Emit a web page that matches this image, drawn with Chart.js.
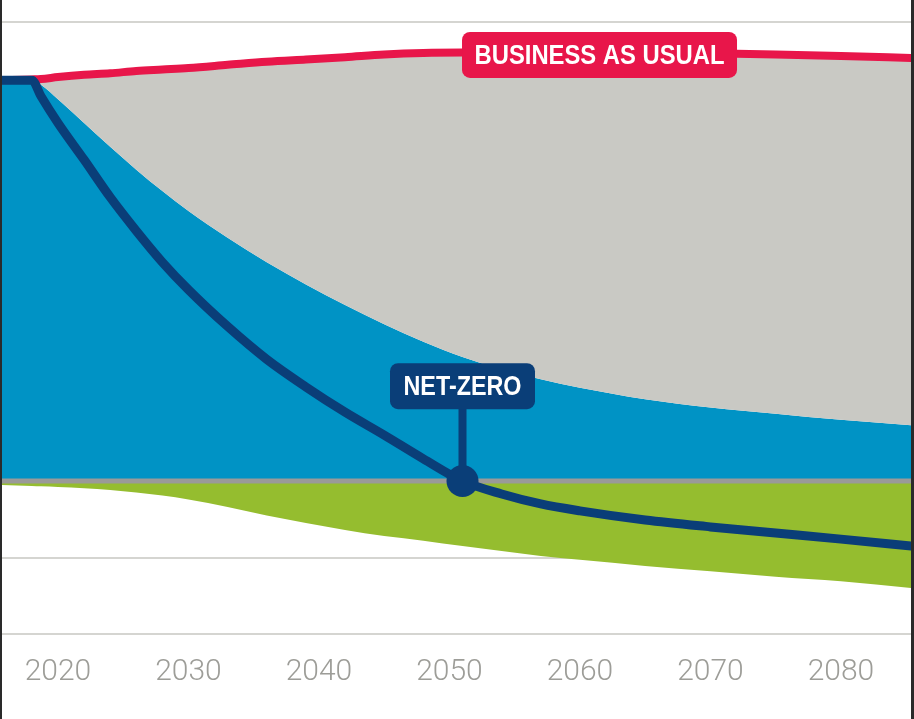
<!DOCTYPE html>
<html>
<head>
<meta charset="utf-8">
<script src="https://cdn.jsdelivr.net/npm/chart.js@4/dist/chart.umd.min.js"></script>
<style>
  html, body { margin: 0; padding: 0; background: #2a2a2a; }
  #wrap { position: absolute; left: 2px; top: 0; width: 909px; height: 719px; background: #fff; }
</style>
</head>
<body>
<div id="wrap"><canvas id="chart"></canvas></div>
<script>
// values (emissions, arbitrary units)
const years = [2015.7, 2018, 2018.7, 2020, 2022, 2024, 2026, 2028, 2030, 2033, 2036, 2039, 2042,
               2045, 2048, 2051, 2054, 2057, 2060, 2065, 2070, 2075, 2080, 2085.4];
const businessAsUsual = [5.24, 5.25, 5.255, 5.28, 5.31, 5.33, 5.36, 5.38, 5.40, 5.44, 5.48, 5.51, 5.54,
                         5.575, 5.595, 5.60, 5.60, 5.60, 5.60, 5.595, 5.59, 5.575, 5.555, 5.53];
const grossEmissions = [5.24, 5.24, 5.18, 4.99, 4.68, 4.37, 4.07, 3.79, 3.53, 3.18, 2.86, 2.57, 2.30,
                        2.05, 1.82, 1.62, 1.46, 1.33, 1.22, 1.07, 0.96, 0.88, 0.80, 0.73];
const netZeroPath = [5.24, 5.24, 5.03, 4.68, 4.20, 3.71, 3.27, 2.86, 2.50, 2.02, 1.59, 1.23, 0.90,
                     0.60, 0.29, 0.0, -0.17, -0.30, -0.39, -0.51, -0.60, -0.68, -0.76, -0.85];
const removals = [-0.052, -0.065, -0.07, -0.078, -0.095, -0.118, -0.15, -0.19, -0.242, -0.34, -0.451, -0.549, -0.641,
                  -0.719, -0.78, -0.85, -0.915, -0.98, -1.03, -1.11, -1.18, -1.25, -1.31, -1.40];
const tickYears = [2020, 2030, 2040, 2050, 2060, 2070, 2080];
const gridValues = [-2, -1, 6];
const netZeroYear = 2051;

const X_MIN = 2015.71, X_MAX = 2085.37;

const pts = (vals) => vals.map((v, i) => ({ x: years[i], y: v }));

// boxed labels + stem down to the net-zero dot
const calloutPlugin = {
  id: "callouts",
  afterDatasetsDraw(chart) {
    const { ctx, scales: { x, y } } = chart;
    ctx.save();

    function box(cx, cy, w, h, fill, text, textW) {
      ctx.fillStyle = fill;
      ctx.beginPath();
      ctx.roundRect(cx - w / 2, cy - h / 2, w, h, 8);
      ctx.fill();
      ctx.fillStyle = "#fff";
      ctx.font = 'bold 28px "Liberation Sans", Arial, sans-serif';
      ctx.textAlign = "center";
      ctx.textBaseline = "middle";
      // condensed look: squeeze the text to the width it has in the picture
      const sx = textW / ctx.measureText(text).width;
      ctx.save();
      ctx.translate(cx, cy + 1);
      ctx.scale(sx, 1);
      ctx.fillText(text, 0, 0);
      ctx.restore();
    }

    box(x.getPixelForValue(2061.5), y.getPixelForValue(5.57), 275, 46, "#e8164a", "BUSINESS AS USUAL", 250);

    const nx = x.getPixelForValue(netZeroYear);
    const by = y.getPixelForValue(1.24);
    ctx.strokeStyle = "#0a3e78";
    ctx.lineWidth = 8;
    ctx.beginPath();
    ctx.moveTo(nx, by);
    ctx.lineTo(nx, y.getPixelForValue(0));
    ctx.stroke();
    box(nx, by, 145, 46, "#0a3e78", "NET-ZERO", 118);

    ctx.restore();
  }
};

new Chart(document.getElementById("chart"), {
  type: "line",
  data: {
    datasets: [
      {
        label: "Net-zero pathway",
        data: pts(netZeroPath),
        borderColor: "#0a3e78",
        borderWidth: 9,
        borderJoinStyle: "round",
        fill: false,
        cubicInterpolationMode: "monotone",
        pointRadius: (c) => (years[c.dataIndex] === netZeroYear ? 16 : 0),
        pointBackgroundColor: "#0a3e78",
        pointBorderWidth: 0,
        order: 0
      },
      {
        label: "zero",
        data: [{ x: X_MIN, y: 0 }, { x: X_MAX, y: 0 }],
        borderColor: "#9a9a98",
        borderWidth: 5,
        pointRadius: 0,
        fill: false,
        order: 1
      },
      {
        label: "Business as usual",
        data: pts(businessAsUsual),
        borderColor: "#e8164a",
        borderWidth: 8,
        backgroundColor: "#c9c9c4",
        fill: 3,
        cubicInterpolationMode: "monotone",
        pointRadius: 0,
        order: 2
      },
      {
        label: "Gross emissions",
        data: pts(grossEmissions),
        borderWidth: 0,
        backgroundColor: "#0093c5",
        fill: "origin",
        cubicInterpolationMode: "monotone",
        pointRadius: 0,
        order: 3
      },
      {
        label: "Removals",
        data: pts(removals),
        borderWidth: 0,
        backgroundColor: "#95bd2f",
        fill: "origin",
        cubicInterpolationMode: "monotone",
        pointRadius: 0,
        order: 4
      }
    ]
  },
  options: {
    responsive: true,
    maintainAspectRatio: false,
    animation: false,
    layout: { padding: { top: 22, left: 0, right: 0, bottom: 0 } },
    plugins: { legend: { display: false }, tooltip: { enabled: false } },
    scales: {
      x: {
        type: "linear",
        min: X_MIN,
        max: X_MAX,
        grid: { display: false },
        border: { display: false },
        afterBuildTicks: (s) => { s.ticks = tickYears.map((v) => ({ value: v })); },
        afterFit: (s) => { s.height = 85; },
        ticks: {
          includeBounds: false,
          padding: 12,
          color: "#9d9d98",
          font: { family: "Roboto, 'Liberation Sans', sans-serif", size: 30, weight: "300" },
          callback: (v) => String(v)
        }
      },
      y: {
        min: -2,
        max: 6,
        border: { display: false },
        afterBuildTicks: (s) => { s.ticks = gridValues.map((v) => ({ value: v })); },
        afterFit: (s) => { s.width = 0; },
        grid: { color: "#d5d5d1", lineWidth: 2, drawTicks: false },
        ticks: { display: false }
      }
    }
  },
  plugins: [calloutPlugin]
});
</script>
</body>
</html>
